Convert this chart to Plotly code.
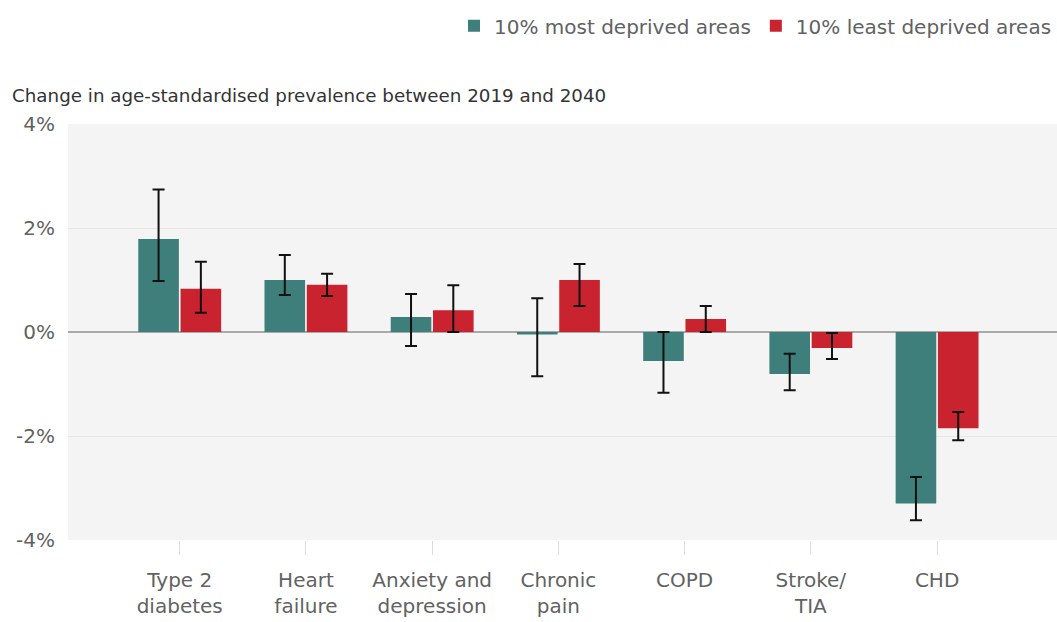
import plotly.graph_objects as go

# Conditions and projected change (percentage points), 2019 -> 2040
conditions = ["Type 2<br>diabetes", "Heart<br>failure", "Anxiety and<br>depression",
              "Chronic<br>pain", "COPD", "Stroke/<br>TIA", "CHD"]

most_deprived = [1.79, 1.00, 0.29, -0.05, -0.56, -0.81, -3.30]
most_upper = [2.74, 1.48, 0.73, 0.65, 0.00, -0.42, -2.79]
most_lower = [0.98, 0.71, -0.27, -0.85, -1.17, -1.12, -3.62]

least_deprived = [0.83, 0.91, 0.42, 1.00, 0.25, -0.31, -1.85]
least_upper = [1.35, 1.12, 0.90, 1.31, 0.50, -0.02, -1.54]
least_lower = [0.37, 0.69, 0.00, 0.50, 0.00, -0.52, -2.08]

y_ticks = [-4, -2, 0, 2, 4]
y_tick_text = ["-4%", "-2%", "0%", "2%", "4%"]

TEAL = "#3e7e7b"
RED = "#c8232e"
FONT = "DejaVu Sans, Arial, sans-serif"
TEXT = "#626262"


def err(vals, upper, lower):
    return dict(
        type="data", symmetric=False,
        array=[u - v for u, v in zip(upper, vals)],
        arrayminus=[v - l for l, v in zip(lower, vals)],
        color="#111111", thickness=2, width=6,
    )


fig = go.Figure()
fig.add_trace(go.Bar(
    x=conditions, y=most_deprived, name="10% most deprived areas",
    marker=dict(color=TEAL, line=dict(width=0)),
    error_y=err(most_deprived, most_upper, most_lower),
))
fig.add_trace(go.Bar(
    x=conditions, y=least_deprived, name="10% least deprived areas",
    marker=dict(color=RED, line=dict(width=0)),
    error_y=err(least_deprived, least_upper, least_lower),
))

fig.update_layout(
    width=1057, height=622,
    margin=dict(l=68, r=0, t=124, b=82),
    paper_bgcolor="white",
    plot_bgcolor="#f4f4f4",
    font=dict(family=FONT, color=TEXT, size=19),
    barmode="group", bargap=0.33, bargroupgap=0.04,
    showlegend=True,
    legend=dict(
        orientation="h", x=1.0, xanchor="right", y=0.99, yref="container",
        yanchor="top", font=dict(size=20, color=TEXT),
        itemwidth=30, traceorder="normal",
    ),
    xaxis=dict(
        range=[-0.885, 6.95], showgrid=False, zeroline=False,
        ticks="outside", ticklen=14, tickcolor="#dddddd", tickwidth=1,
        tickfont=dict(size=20, color=TEXT), showline=False,
        ticklabelstandoff=8,
    ),
    yaxis=dict(
        range=[-4.0, 4.0], tickvals=y_ticks, ticktext=y_tick_text,
        showgrid=True, gridcolor="#e6e6e6", gridwidth=1,
        zeroline=True, zerolinecolor="#a9a9a9", zerolinewidth=2,
        tickfont=dict(size=20, color=TEXT), ticks="", ticklabelstandoff=12,
        showline=False,
    ),
    annotations=[dict(
        text="Change in age-standardised prevalence between 2019 and 2040",
        xref="paper", yref="paper", x=-0.059, y=1.0, xanchor="left", yanchor="bottom",
        yshift=16, showarrow=False, font=dict(size=18.3, color="#333333"),
    )],
)

fig.write_html("out.html")
